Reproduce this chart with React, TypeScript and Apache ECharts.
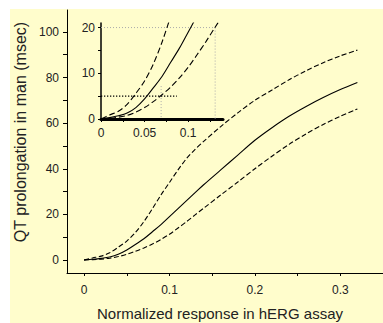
import React, { useEffect, useRef } from "react";
import * as echarts from "echarts";

// x values (normalized response in hERG assay)
const xVals = [0, 0.01, 0.02, 0.03, 0.04, 0.05, 0.06, 0.07, 0.08, 0.09, 0.1, 0.11, 0.12, 0.13, 0.14, 0.16, 0.18, 0.2, 0.22, 0.24, 0.26, 0.28, 0.3, 0.32];
// QT prolongation (msec)
const upperVals = [0, 0.9, 1.7, 3.2, 5.6, 8.3, 12, 16.8, 22.5, 28.5, 34, 39.5, 44.5, 48.5, 52, 58.5, 64.5, 70, 74.5, 79, 83, 86.5, 89.5, 92];
const medianVals = [0, 0.3, 0.7, 1.3, 2.5, 4.4, 6.8, 9.3, 12.4, 15.5, 19, 22.5, 26, 29.5, 33, 39.5, 46, 52.5, 58, 63, 67.3, 71.2, 74.7, 77.8];
const lowerVals = [0, 0.15, 0.4, 0.8, 1.5, 2.5, 3.8, 5.3, 7, 9, 11.3, 14, 16.8, 19.8, 22.7, 28.5, 34.2, 40, 45.5, 50.7, 55.3, 59.4, 63, 66.2];

// main axis ticks / labels
const mainXTicks = [0, 0.05, 0.1, 0.15, 0.2, 0.25, 0.3, 0.35];
const mainXLabels = [0, 0.1, 0.2, 0.3];
const mainYTicks = [0, 10, 20, 30, 40, 50, 60, 70, 80, 90, 100];
const mainYLabels = [0, 20, 40, 60, 80, 100];
// inset axis ticks / labels
const insetXTicks = [0, 0.025, 0.05, 0.075, 0.1, 0.125];
const insetXLabels = [0, 0.05, 0.1];
const insetYTicks = [0, 5, 10, 15, 20];
const insetYLabels = [0, 10, 20];

// inset reference lines
const ref20H = [[0, 20], [0.131, 20]];
const ref20V = [[0.131, 20], [0.131, 0]];
const ref5H = [[0, 5], [0.087, 5]];
const ref5V = [[0.069, 7.2], [0.069, 0]];

const FONT = "'Liberation Sans', Arial, sans-serif";
const TXT = "#222";

function pairs(ys: number[]) {
  return xVals.map((x, i) => [x, ys[i]]);
}

export default function App() {
  const ref = useRef<HTMLDivElement>(null);
  useEffect(() => {
    if (!ref.current) return;
    const chart = echarts.init(ref.current, null, { renderer: "svg" });
    const lbl = { color: TXT, fontSize: 12, fontFamily: FONT };
    const axLine = { show: true, lineStyle: { color: "#000", width: 1 } };
    const curve = (name: string, ys: number[], dashed: boolean, xi: number, dash: number[]) => ({
      name,
      type: "line",
      xAxisIndex: xi,
      yAxisIndex: xi,
      data: pairs(ys),
      smooth: 0.3,
      showSymbol: false,
      symbol: "none",
      clip: true,
      lineStyle: { color: "#000", width: 1.1, type: dashed ? dash : "solid" },
      z: 3,
    });
    const refLine = (data: number[][], color: string, width: number, dash: number[]) => ({
      type: "line",
      xAxisIndex: 1,
      yAxisIndex: 1,
      data,
      showSymbol: false,
      symbol: "none",
      lineStyle: { color, width, type: dash },
      z: 2,
    });
    chart.setOption({
      animation: false,
      backgroundColor: "transparent",
      textStyle: { fontFamily: FONT },
      grid: [
        { left: 67, top: 10, right: 0, bottom: 50 },
        { left: 101, top: 23, width: 122, height: 96 },
      ],
      xAxis: [
        {
          type: "value",
          gridIndex: 0,
          min: -0.02,
          max: 0.35,
          axisLine: { ...axLine, onZero: false },
          axisTick: { show: true, customValues: mainXTicks, length: 3, lineStyle: { color: "#000" } },
          axisLabel: { ...lbl, customValues: mainXLabels, margin: 11, formatter: (v: number) => String(v) },
          splitLine: { show: false },
        },
        {
          type: "value",
          gridIndex: 1,
          min: 0,
          max: 0.14,
          axisLine: { show: true, onZero: false, lineStyle: { color: "#000", width: 3 } },
          axisTick: { show: true, customValues: insetXTicks, length: 3, lineStyle: { color: "#000" } },
          axisLabel: { ...lbl, customValues: insetXLabels, margin: 8, formatter: (v: number) => String(v) },
          splitLine: { show: false },
        },
      ],
      yAxis: [
        {
          type: "value",
          gridIndex: 0,
          min: -5.7,
          max: 109.6,
          axisLine: { ...axLine, onZero: false },
          axisTick: { show: true, customValues: mainYTicks, length: 4, lineStyle: { color: "#000" } },
          axisLabel: { ...lbl, customValues: mainYLabels, margin: 8 },
          splitLine: { show: false },
        },
        {
          type: "value",
          gridIndex: 1,
          min: 0,
          max: 21,
          axisLine: { show: true, onZero: false, lineStyle: { color: "#000", width: 1.5 } },
          axisTick: { show: true, customValues: insetYTicks, length: 3, lineStyle: { color: "#000" } },
          axisLabel: { ...lbl, customValues: insetYLabels, margin: 6 },
          splitLine: { show: false },
        },
      ],
      series: [
        curve("upper", upperVals, true, 0, [5, 2.5]),
        curve("median", medianVals, false, 0, []),
        curve("lower", lowerVals, true, 0, [5, 2.5]),
        refLine(ref20H, "#aaa", 1, [1, 2]),
        refLine(ref20V, "#aaa", 1, [1, 2]),
        refLine(ref5H, "#000", 1.3, [1.3, 1.7]),
        refLine(ref5V, "#aaa", 1, [1, 2]),
        curve("upper-inset", upperVals, true, 1, [6, 3]),
        curve("median-inset", medianVals, false, 1, []),
        curve("lower-inset", lowerVals, true, 1, [6, 3]),
      ],
      graphic: [
        {
          type: "text",
          x: 220,
          y: 313,
          style: {
            text: "Normalized response in hERG assay",
            fill: TXT,
            fontSize: 15,
            fontFamily: FONT,
            textAlign: "center",
            textVerticalAlign: "middle",
          },
        },
        {
          type: "text",
          x: 20,
          y: 132,
          rotation: Math.PI / 2,
          style: {
            text: "QT prolongation in man (msec)",
            fill: TXT,
            fontSize: 16,
            fontFamily: FONT,
            textAlign: "center",
            textVerticalAlign: "middle",
          },
        },
      ],
    });
    return () => chart.dispose();
  }, []);
  return (
    <div style={{ position: "fixed", left: 0, top: 0, width: 383, height: 323, background: "#fff" }}>
      <div style={{ position: "absolute", left: 10, top: 9, width: 373, height: 314, background: "#FFFDCC" }} />
      <div ref={ref} style={{ position: "absolute", left: 0, top: 0, width: 383, height: 323 }} />
    </div>
  );
}
